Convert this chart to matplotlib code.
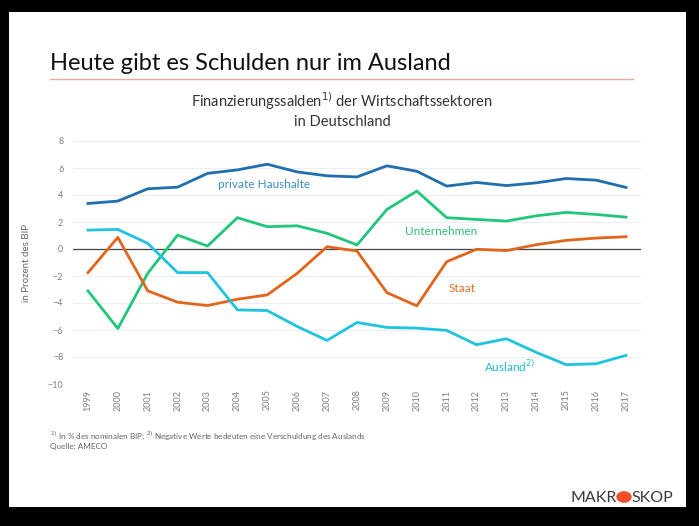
import matplotlib
matplotlib.use("Agg")
import matplotlib.pyplot as plt
from matplotlib.patches import Rectangle, Circle
from matplotlib.lines import Line2D

years = list(range(1999, 2018))
haushalte = [3.37, 3.55, 4.46, 4.58, 5.60, 5.86, 6.28, 5.71, 5.42, 5.34,
             6.16, 5.76, 4.66, 4.93, 4.70, 4.90, 5.22, 5.10, 4.56]
unternehmen = [-3.10, -5.89, -1.80, 1.03, 0.22, 2.32, 1.65, 1.72, 1.16, 0.30,
               2.93, 4.29, 2.32, 2.19, 2.07, 2.46, 2.71, 2.56, 2.36]
staat = [-1.75, 0.86, -3.10, -3.94, -4.19, -3.72, -3.40, -1.80, 0.17, -0.15,
         -3.23, -4.21, -0.94, -0.02, -0.12, 0.32, 0.64, 0.81, 0.91]
ausland = [1.40, 1.45, 0.42, -1.75, -1.75, -4.51, -4.56, -5.74, -6.77, -5.44,
           -5.81, -5.86, -6.03, -7.09, -6.65, -7.66, -8.57, -8.50, -7.88]
yticks = [8, 6, 4, 2, 0, -2, -4, -6, -8, -10]

FONT = ["Lato", "DejaVu Sans"]
plt.rcParams["font.family"] = FONT
GRAY = "#7f7f7f"

fig = plt.figure(figsize=(6.99, 5.26), dpi=100)
fig.patch.set_facecolor("black")
W, H = 699, 526


def fx(px):
    return px / W


def fy(py):
    return 1 - py / H


# white slide behind everything
fig.patches.append(Rectangle((fx(9), fy(507)), fx(686 - 9), (507 - 12) / H,
                             transform=fig.transFigure, facecolor="white",
                             edgecolor="none", zorder=-5))

fig.text(fx(50), fy(64), "Heute gibt es Schulden nur im Ausland", fontsize=17,
         color="#111111", va="center", ha="left")
fig.lines.append(Line2D([fx(50), fx(633)], [fy(79), fy(79)], transform=fig.transFigure,
                        color="#e6aaa0", linewidth=1.0))
fig.text(fx(342), fy(101), r"Finanzierungssalden$^{1)}$ der Wirtschaftssektoren",
         fontsize=10.5, color="#333333", ha="center", va="center")
fig.text(fx(342), fy(122), "in Deutschland", fontsize=10.5, color="#333333",
         ha="center", va="center")

ax = fig.add_axes([fx(73), fy(384), fx(641 - 73), (384 - 141) / H])
ax.set_zorder(2)
ax.set_facecolor("none")
ax.plot(years, haushalte, color="#1f6fae", linewidth=2)
ax.plot(years, unternehmen, color="#1ec878", linewidth=2)
ax.plot(years, staat, color="#e2651c", linewidth=2)
ax.plot(years, ausland, color="#1ec3e0", linewidth=2)
ax.axhline(0, color="#444444", linewidth=0.9, zorder=1)

ax.set_xlim(1998.5, 2017.5)
ax.set_ylim(-10, 8)
ax.set_yticks(yticks)
ax.set_xticks(years)
ax.set_xticklabels([str(y) for y in years], rotation=90)
ax.tick_params(axis="both", length=0, labelsize=6.5, labelcolor=GRAY)
ax.tick_params(axis="y", pad=7)
ax.tick_params(axis="x", pad=4)
ax.grid(axis="y", color="#eeeeee", linewidth=0.8)
ax.set_axisbelow(True)
for s in ax.spines.values():
    s.set_visible(False)
ax.set_ylabel("in Prozent des BIP", fontsize=7, color="#666666", labelpad=12)

# series labels sit inside the plot instead of a legend
ax.text(2004.9, 4.8, "private Haushalte", color="#3a8cc4", fontsize=8.5,
        ha="center", va="center")
ax.text(2010.8, 1.33, "Unternehmen", color="#2dbf72", fontsize=8.5,
        ha="center", va="center")
ax.text(2011.5, -2.9, "Staat", color="#e0702a", fontsize=8.5,
        ha="center", va="center")
ax.text(2013.1, -8.7, r"Ausland$^{2)}$", color="#27b8d8", fontsize=8.5,
        ha="center", va="center")

fig.text(fx(50), fy(436), r"$^{1)}$ In % des nominalen BIP; $^{2)}$ Negative Werte bedeuten eine Verschuldung des Auslands",
         fontsize=5.9, color="#666666", ha="left", va="center")
fig.text(fx(50), fy(447), "Quelle: AMECO", fontsize=5.9, color="#666666",
         ha="left", va="center")

# logo
fig.text(fx(617), fy(498), "MAKR", fontsize=11.5, color="#3a3a3a", ha="right",
         va="center")
fig.patches.append(Circle((fx(624), fy(497)), 0.011, transform=fig.transFigure,
                          facecolor="#f04e23", edgecolor="none"))
fig.text(fx(631), fy(498), "SKOP", fontsize=11.5, color="#3a3a3a", ha="left",
         va="center")

fig.savefig("out.png", dpi=100, facecolor="black")
